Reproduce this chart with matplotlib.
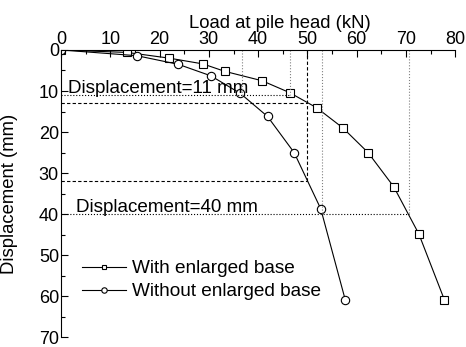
import matplotlib.pyplot as plt
from matplotlib.ticker import MultipleLocator

plt.rcParams['font.family'] = ['Liberation Sans', 'DejaVu Sans']
plt.rcParams['font.size'] = 13

# load (kN) vs displacement (mm)
load_with = [0, 13.4, 22.0, 28.8, 33.2, 40.8, 46.4, 51.9, 57.2, 62.3, 67.5, 72.6, 77.8]
disp_with = [0, 0.6, 2.0, 3.4, 5.2, 7.5, 10.4, 14.1, 19.0, 25.0, 33.3, 44.8, 60.9]
load_without = [0, 15.4, 23.8, 30.4, 36.4, 41.9, 47.3, 52.7, 57.7]
disp_without = [0, 1.4, 3.5, 6.3, 10.6, 16.2, 25.0, 38.7, 61.0]

s_small = 11
s_large = 40
load_small = [36.8, 46.5]
load_large = [52.9, 70.7]
s_dash = [13, 32]
load_dash = 50

fig = plt.figure(figsize=(4.66, 3.47), dpi=100)
ax = fig.add_axes([0.131, 0.028, 0.846, 0.828])

ax.plot(load_with, disp_with, '-s', color='black', lw=0.8, ms=5.5,
        mfc='white', mec='black', mew=0.8, label='With enlarged base')
ax.plot(load_without, disp_without, '-o', color='black', lw=0.8, ms=6,
        mfc='white', mec='black', mew=0.8, label='Without enlarged base')

# dotted guides
ax.plot([0, max(load_small)], [s_small, s_small], ':', color='black', lw=0.8)
ax.plot([0, max(load_large)], [s_large, s_large], ':', color='black', lw=0.8)
for x in load_small:
    ax.plot([x, x], [0, s_small], ':', color='grey', lw=0.8)
for x in load_large:
    ax.plot([x, x], [0, s_large], ':', color='grey', lw=0.8)

# dashed guides
for s in s_dash:
    ax.plot([0, load_dash], [s, s], color='black', lw=0.8, ls=(0, (3, 2)))
ax.plot([load_dash, load_dash], [0, max(s_dash)], color='black', lw=0.8, ls=(0, (3, 2)))

ax.text(1.5, 10.6, 'Displacement=11 mm', fontsize=13.6)
ax.text(3.1, 39.5, 'Displacement=40 mm', fontsize=13.6)

ax.set_xlim(0, 80)
ax.set_ylim(70, 0)
ax.xaxis.set_major_locator(MultipleLocator(10))
ax.xaxis.set_minor_locator(MultipleLocator(5))
ax.yaxis.set_major_locator(MultipleLocator(10))
ax.yaxis.set_minor_locator(MultipleLocator(5))
ax.xaxis.tick_top()
ax.xaxis.set_label_position('top')
ax.tick_params(which='both', direction='in', width=0.8, pad=1.5, labelsize=13)
ax.tick_params(which='major', length=5)
ax.tick_params(which='minor', length=3)
ax.tick_params(axis='x', which='both', bottom=False, top=True)
ax.tick_params(axis='y', which='both', right=False, left=True)
ax.spines['right'].set_visible(False)
ax.spines['bottom'].set_visible(False)
ax.spines['left'].set_linewidth(0.8)
ax.spines['top'].set_linewidth(0.8)

ax.set_xlabel('Load at pile head (kN)', fontsize=13.3)
ax.xaxis.set_label_coords(0.555, 1.075)
ax.set_ylabel('Displacement (mm)', fontsize=13.3)
ax.yaxis.set_label_coords(-0.11, 0.5)

ax.legend(loc='upper left', bbox_to_anchor=(0.035, 0.295), frameon=False,
          fontsize=13.7, handlelength=2.3, handletextpad=0.3, markerscale=0.65,
          labelspacing=0.3, borderaxespad=0)

fig.savefig('out.png', dpi=100)
